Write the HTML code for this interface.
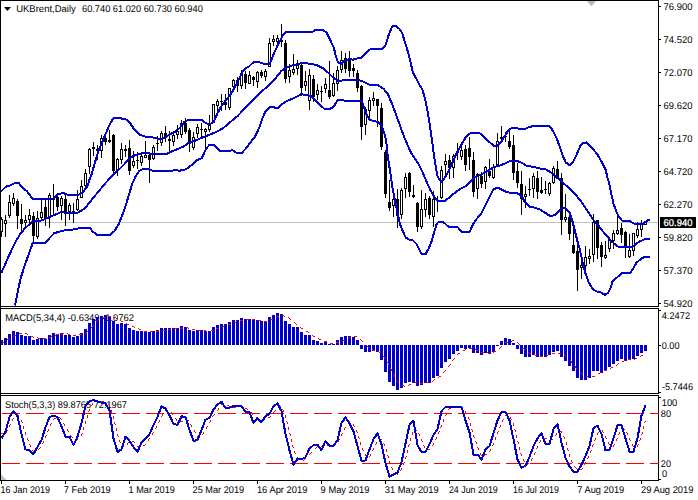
<!DOCTYPE html>
<html><head><meta charset="utf-8"><title>UKBrent Daily</title>
<style>html,body{margin:0;padding:0;background:#fff;overflow:hidden}svg{display:block}text{font-family:"Liberation Sans",sans-serif;font-size:9.8px;fill:#000;text-rendering:geometricPrecision}</style></head><body>
<svg width="698" height="500" viewBox="0 0 698 500">
<rect x="0" y="0" width="698" height="500" fill="#fff"/>
<text x="16.2" y="12" textLength="59.6" lengthAdjust="spacingAndGlyphs">UKBrent,Daily</text>
<text x="82" y="12" textLength="120.8" lengthAdjust="spacingAndGlyphs">60.740 61.020 60.730 60.940</text>
<text x="5.2" y="321" textLength="128.8" lengthAdjust="spacingAndGlyphs">MACD(5,34,4) -0.6349 -1.0762</text>
<text x="5.0" y="408" textLength="122" lengthAdjust="spacingAndGlyphs">Stoch(5,3,3) 89.8765 72.1967</text>
<g shape-rendering="crispEdges">
<rect x="1" y="222" width="657" height="1" fill="#c0c0c0"/>
<g id="candles">
<rect x="1" y="217" width="1" height="20" fill="#000"/>
<rect x="0" y="219" width="3" height="13" fill="#000"/>
<rect x="1" y="220" width="1" height="11" fill="#fff"/>
<rect x="5" y="215" width="1" height="22" fill="#000"/>
<rect x="4" y="220" width="3" height="4" fill="#000"/>
<rect x="5" y="221" width="1" height="2" fill="#fff"/>
<rect x="9" y="195" width="1" height="23" fill="#000"/>
<rect x="8" y="202" width="3" height="14" fill="#000"/>
<rect x="9" y="203" width="1" height="12" fill="#fff"/>
<rect x="13" y="193" width="1" height="13" fill="#000"/>
<rect x="12" y="198" width="3" height="6" fill="#000"/>
<rect x="13" y="199" width="1" height="4" fill="#fff"/>
<rect x="17" y="199" width="1" height="30" fill="#000"/>
<rect x="16" y="201" width="3" height="15" fill="#000"/>
<rect x="21" y="204" width="1" height="27" fill="#000"/>
<rect x="20" y="219" width="3" height="5" fill="#000"/>
<rect x="25" y="215" width="1" height="12" fill="#000"/>
<rect x="24" y="220" width="3" height="3" fill="#000"/>
<rect x="25" y="221" width="1" height="1" fill="#fff"/>
<rect x="29" y="209" width="1" height="14" fill="#000"/>
<rect x="28" y="215" width="3" height="5" fill="#000"/>
<rect x="29" y="216" width="1" height="3" fill="#fff"/>
<rect x="33" y="212" width="1" height="30" fill="#000"/>
<rect x="32" y="216" width="3" height="20" fill="#000"/>
<rect x="37" y="211" width="1" height="28" fill="#000"/>
<rect x="36" y="218" width="3" height="19" fill="#000"/>
<rect x="37" y="219" width="1" height="17" fill="#fff"/>
<rect x="41" y="200" width="1" height="20" fill="#000"/>
<rect x="40" y="212" width="3" height="6" fill="#000"/>
<rect x="41" y="213" width="1" height="4" fill="#fff"/>
<rect x="45" y="200" width="1" height="26" fill="#000"/>
<rect x="44" y="207" width="3" height="12" fill="#000"/>
<rect x="49" y="193" width="1" height="35" fill="#000"/>
<rect x="48" y="195" width="3" height="23" fill="#000"/>
<rect x="49" y="196" width="1" height="21" fill="#fff"/>
<rect x="53" y="184" width="1" height="32" fill="#000"/>
<rect x="52" y="199" width="3" height="1" fill="#000"/>
<rect x="57" y="193" width="1" height="18" fill="#000"/>
<rect x="56" y="197" width="3" height="10" fill="#000"/>
<rect x="61" y="196" width="1" height="24" fill="#000"/>
<rect x="60" y="198" width="3" height="8" fill="#000"/>
<rect x="61" y="199" width="1" height="6" fill="#fff"/>
<rect x="65" y="195" width="1" height="31" fill="#000"/>
<rect x="64" y="199" width="3" height="13" fill="#000"/>
<rect x="69" y="203" width="1" height="17" fill="#000"/>
<rect x="68" y="205" width="3" height="7" fill="#000"/>
<rect x="69" y="206" width="1" height="5" fill="#fff"/>
<rect x="73" y="203" width="1" height="20" fill="#000"/>
<rect x="72" y="211" width="3" height="2" fill="#000"/>
<rect x="77" y="190" width="1" height="21" fill="#000"/>
<rect x="76" y="199" width="3" height="11" fill="#000"/>
<rect x="77" y="200" width="1" height="9" fill="#fff"/>
<rect x="81" y="180" width="1" height="18" fill="#000"/>
<rect x="80" y="186" width="3" height="12" fill="#000"/>
<rect x="81" y="187" width="1" height="10" fill="#fff"/>
<rect x="85" y="169" width="1" height="18" fill="#000"/>
<rect x="84" y="173" width="3" height="13" fill="#000"/>
<rect x="85" y="174" width="1" height="11" fill="#fff"/>
<rect x="89" y="148" width="1" height="26" fill="#000"/>
<rect x="88" y="149" width="3" height="18" fill="#000"/>
<rect x="89" y="150" width="1" height="16" fill="#fff"/>
<rect x="93" y="142" width="1" height="14" fill="#000"/>
<rect x="92" y="147" width="3" height="2" fill="#000"/>
<rect x="97" y="145" width="1" height="15" fill="#000"/>
<rect x="96" y="149" width="3" height="2" fill="#000"/>
<rect x="101" y="135" width="1" height="23" fill="#000"/>
<rect x="100" y="138" width="3" height="13" fill="#000"/>
<rect x="101" y="139" width="1" height="11" fill="#fff"/>
<rect x="105" y="136" width="1" height="9" fill="#000"/>
<rect x="104" y="138" width="3" height="4" fill="#000"/>
<rect x="109" y="130" width="1" height="13" fill="#000"/>
<rect x="108" y="140" width="3" height="2" fill="#000"/>
<rect x="113" y="134" width="1" height="40" fill="#000"/>
<rect x="112" y="135" width="3" height="36" fill="#000"/>
<rect x="117" y="158" width="1" height="18" fill="#000"/>
<rect x="116" y="159" width="3" height="11" fill="#000"/>
<rect x="117" y="160" width="1" height="9" fill="#fff"/>
<rect x="121" y="143" width="1" height="21" fill="#000"/>
<rect x="120" y="149" width="3" height="11" fill="#000"/>
<rect x="121" y="150" width="1" height="9" fill="#fff"/>
<rect x="125" y="145" width="1" height="12" fill="#000"/>
<rect x="124" y="149" width="3" height="2" fill="#000"/>
<rect x="129" y="140" width="1" height="35" fill="#000"/>
<rect x="128" y="148" width="3" height="23" fill="#000"/>
<rect x="133" y="151" width="1" height="17" fill="#000"/>
<rect x="132" y="161" width="3" height="5" fill="#000"/>
<rect x="133" y="162" width="1" height="3" fill="#fff"/>
<rect x="137" y="152" width="1" height="17" fill="#000"/>
<rect x="136" y="160" width="3" height="1" fill="#000"/>
<rect x="141" y="154" width="1" height="12" fill="#000"/>
<rect x="140" y="156" width="3" height="7" fill="#000"/>
<rect x="141" y="157" width="1" height="5" fill="#fff"/>
<rect x="145" y="141" width="1" height="17" fill="#000"/>
<rect x="144" y="155" width="3" height="3" fill="#000"/>
<rect x="145" y="156" width="1" height="1" fill="#fff"/>
<rect x="149" y="154" width="1" height="29" fill="#000"/>
<rect x="148" y="155" width="3" height="5" fill="#000"/>
<rect x="153" y="145" width="1" height="15" fill="#000"/>
<rect x="152" y="147" width="3" height="12" fill="#000"/>
<rect x="153" y="148" width="1" height="10" fill="#fff"/>
<rect x="157" y="136" width="1" height="15" fill="#000"/>
<rect x="156" y="143" width="3" height="1" fill="#000"/>
<rect x="161" y="131" width="1" height="15" fill="#000"/>
<rect x="160" y="133" width="3" height="10" fill="#000"/>
<rect x="161" y="134" width="1" height="8" fill="#fff"/>
<rect x="165" y="126" width="1" height="16" fill="#000"/>
<rect x="164" y="133" width="3" height="4" fill="#000"/>
<rect x="169" y="131" width="1" height="21" fill="#000"/>
<rect x="168" y="139" width="3" height="2" fill="#000"/>
<rect x="173" y="134" width="1" height="12" fill="#000"/>
<rect x="172" y="135" width="3" height="7" fill="#000"/>
<rect x="173" y="136" width="1" height="5" fill="#fff"/>
<rect x="177" y="125" width="1" height="14" fill="#000"/>
<rect x="176" y="131" width="3" height="4" fill="#000"/>
<rect x="177" y="132" width="1" height="2" fill="#fff"/>
<rect x="181" y="120" width="1" height="18" fill="#000"/>
<rect x="180" y="123" width="3" height="12" fill="#000"/>
<rect x="181" y="124" width="1" height="10" fill="#fff"/>
<rect x="185" y="118" width="1" height="16" fill="#000"/>
<rect x="184" y="123" width="3" height="9" fill="#000"/>
<rect x="189" y="128" width="1" height="24" fill="#000"/>
<rect x="188" y="130" width="3" height="12" fill="#000"/>
<rect x="193" y="132" width="1" height="18" fill="#000"/>
<rect x="192" y="137" width="3" height="11" fill="#000"/>
<rect x="193" y="138" width="1" height="9" fill="#fff"/>
<rect x="197" y="124" width="1" height="14" fill="#000"/>
<rect x="196" y="127" width="3" height="7" fill="#000"/>
<rect x="197" y="128" width="1" height="5" fill="#fff"/>
<rect x="201" y="123" width="1" height="15" fill="#000"/>
<rect x="200" y="129" width="3" height="1" fill="#000"/>
<rect x="205" y="128" width="1" height="20" fill="#000"/>
<rect x="204" y="129" width="3" height="3" fill="#000"/>
<rect x="205" y="130" width="1" height="1" fill="#fff"/>
<rect x="209" y="115" width="1" height="17" fill="#000"/>
<rect x="208" y="125" width="3" height="5" fill="#000"/>
<rect x="209" y="126" width="1" height="3" fill="#fff"/>
<rect x="213" y="104" width="1" height="19" fill="#000"/>
<rect x="212" y="104" width="3" height="19" fill="#000"/>
<rect x="213" y="105" width="1" height="17" fill="#fff"/>
<rect x="217" y="99" width="1" height="13" fill="#000"/>
<rect x="216" y="101" width="3" height="5" fill="#000"/>
<rect x="217" y="102" width="1" height="3" fill="#fff"/>
<rect x="221" y="94" width="1" height="17" fill="#000"/>
<rect x="220" y="101" width="3" height="1" fill="#000"/>
<rect x="225" y="94" width="1" height="16" fill="#000"/>
<rect x="224" y="102" width="3" height="3" fill="#000"/>
<rect x="229" y="88" width="1" height="22" fill="#000"/>
<rect x="228" y="88" width="3" height="20" fill="#000"/>
<rect x="229" y="89" width="1" height="18" fill="#fff"/>
<rect x="233" y="79" width="1" height="9" fill="#000"/>
<rect x="232" y="80" width="3" height="7" fill="#000"/>
<rect x="233" y="81" width="1" height="5" fill="#fff"/>
<rect x="237" y="77" width="1" height="15" fill="#000"/>
<rect x="236" y="80" width="3" height="6" fill="#000"/>
<rect x="241" y="70" width="1" height="19" fill="#000"/>
<rect x="240" y="73" width="3" height="13" fill="#000"/>
<rect x="241" y="74" width="1" height="11" fill="#fff"/>
<rect x="245" y="71" width="1" height="18" fill="#000"/>
<rect x="244" y="74" width="3" height="9" fill="#000"/>
<rect x="249" y="71" width="1" height="13" fill="#000"/>
<rect x="248" y="75" width="3" height="9" fill="#000"/>
<rect x="249" y="76" width="1" height="7" fill="#fff"/>
<rect x="253" y="76" width="1" height="10" fill="#000"/>
<rect x="252" y="77" width="3" height="3" fill="#000"/>
<rect x="257" y="71" width="1" height="17" fill="#000"/>
<rect x="256" y="72" width="3" height="10" fill="#000"/>
<rect x="257" y="73" width="1" height="8" fill="#fff"/>
<rect x="261" y="70" width="1" height="8" fill="#000"/>
<rect x="260" y="72" width="3" height="4" fill="#000"/>
<rect x="265" y="69" width="1" height="12" fill="#000"/>
<rect x="264" y="71" width="3" height="6" fill="#000"/>
<rect x="265" y="72" width="1" height="4" fill="#fff"/>
<rect x="269" y="38" width="1" height="29" fill="#000"/>
<rect x="268" y="43" width="3" height="24" fill="#000"/>
<rect x="269" y="44" width="1" height="22" fill="#fff"/>
<rect x="273" y="35" width="1" height="11" fill="#000"/>
<rect x="272" y="39" width="3" height="3" fill="#000"/>
<rect x="273" y="40" width="1" height="1" fill="#fff"/>
<rect x="277" y="35" width="1" height="9" fill="#000"/>
<rect x="276" y="38" width="3" height="4" fill="#000"/>
<rect x="277" y="39" width="1" height="2" fill="#fff"/>
<rect x="281" y="24" width="1" height="23" fill="#000"/>
<rect x="280" y="40" width="3" height="2" fill="#000"/>
<rect x="285" y="40" width="1" height="43" fill="#000"/>
<rect x="284" y="43" width="3" height="36" fill="#000"/>
<rect x="289" y="64" width="1" height="19" fill="#000"/>
<rect x="288" y="70" width="3" height="7" fill="#000"/>
<rect x="289" y="71" width="1" height="5" fill="#fff"/>
<rect x="293" y="54" width="1" height="21" fill="#000"/>
<rect x="292" y="69" width="3" height="4" fill="#000"/>
<rect x="293" y="70" width="1" height="2" fill="#fff"/>
<rect x="297" y="60" width="1" height="15" fill="#000"/>
<rect x="296" y="65" width="3" height="4" fill="#000"/>
<rect x="297" y="66" width="1" height="2" fill="#fff"/>
<rect x="301" y="62" width="1" height="34" fill="#000"/>
<rect x="300" y="65" width="3" height="23" fill="#000"/>
<rect x="305" y="71" width="1" height="20" fill="#000"/>
<rect x="304" y="81" width="3" height="5" fill="#000"/>
<rect x="305" y="82" width="1" height="3" fill="#fff"/>
<rect x="309" y="69" width="1" height="41" fill="#000"/>
<rect x="308" y="75" width="3" height="26" fill="#000"/>
<rect x="309" y="76" width="1" height="24" fill="#fff"/>
<rect x="313" y="75" width="1" height="27" fill="#000"/>
<rect x="312" y="79" width="3" height="18" fill="#000"/>
<rect x="317" y="84" width="1" height="16" fill="#000"/>
<rect x="316" y="90" width="3" height="5" fill="#000"/>
<rect x="317" y="91" width="1" height="3" fill="#fff"/>
<rect x="321" y="86" width="1" height="16" fill="#000"/>
<rect x="320" y="91" width="3" height="1" fill="#000"/>
<rect x="325" y="78" width="1" height="15" fill="#000"/>
<rect x="324" y="84" width="3" height="5" fill="#000"/>
<rect x="325" y="85" width="1" height="3" fill="#fff"/>
<rect x="329" y="61" width="1" height="38" fill="#000"/>
<rect x="328" y="90" width="3" height="7" fill="#000"/>
<rect x="333" y="73" width="1" height="24" fill="#000"/>
<rect x="332" y="83" width="3" height="13" fill="#000"/>
<rect x="333" y="84" width="1" height="11" fill="#fff"/>
<rect x="337" y="66" width="1" height="25" fill="#000"/>
<rect x="336" y="70" width="3" height="14" fill="#000"/>
<rect x="337" y="71" width="1" height="12" fill="#fff"/>
<rect x="341" y="51" width="1" height="22" fill="#000"/>
<rect x="340" y="60" width="3" height="10" fill="#000"/>
<rect x="341" y="61" width="1" height="8" fill="#fff"/>
<rect x="345" y="53" width="1" height="20" fill="#000"/>
<rect x="344" y="58" width="3" height="11" fill="#000"/>
<rect x="349" y="51" width="1" height="26" fill="#000"/>
<rect x="348" y="58" width="3" height="13" fill="#000"/>
<rect x="353" y="64" width="1" height="13" fill="#000"/>
<rect x="352" y="68" width="3" height="3" fill="#000"/>
<rect x="357" y="70" width="1" height="22" fill="#000"/>
<rect x="356" y="73" width="3" height="15" fill="#000"/>
<rect x="361" y="85" width="1" height="55" fill="#000"/>
<rect x="360" y="86" width="3" height="41" fill="#000"/>
<rect x="365" y="107" width="1" height="28" fill="#000"/>
<rect x="364" y="109" width="3" height="16" fill="#000"/>
<rect x="365" y="110" width="1" height="14" fill="#fff"/>
<rect x="369" y="97" width="1" height="21" fill="#000"/>
<rect x="368" y="100" width="3" height="11" fill="#000"/>
<rect x="369" y="101" width="1" height="9" fill="#fff"/>
<rect x="373" y="92" width="1" height="14" fill="#000"/>
<rect x="372" y="98" width="3" height="3" fill="#000"/>
<rect x="373" y="99" width="1" height="1" fill="#fff"/>
<rect x="377" y="99" width="1" height="28" fill="#000"/>
<rect x="376" y="99" width="3" height="7" fill="#000"/>
<rect x="381" y="103" width="1" height="47" fill="#000"/>
<rect x="380" y="108" width="3" height="39" fill="#000"/>
<rect x="385" y="150" width="1" height="48" fill="#000"/>
<rect x="384" y="152" width="3" height="42" fill="#000"/>
<rect x="389" y="180" width="1" height="31" fill="#000"/>
<rect x="388" y="202" width="3" height="6" fill="#000"/>
<rect x="393" y="197" width="1" height="20" fill="#000"/>
<rect x="392" y="199" width="3" height="7" fill="#000"/>
<rect x="393" y="200" width="1" height="5" fill="#fff"/>
<rect x="397" y="189" width="1" height="39" fill="#000"/>
<rect x="396" y="199" width="3" height="17" fill="#000"/>
<rect x="401" y="188" width="1" height="31" fill="#000"/>
<rect x="400" y="190" width="3" height="25" fill="#000"/>
<rect x="401" y="191" width="1" height="23" fill="#fff"/>
<rect x="405" y="173" width="1" height="25" fill="#000"/>
<rect x="404" y="177" width="3" height="12" fill="#000"/>
<rect x="405" y="178" width="1" height="10" fill="#fff"/>
<rect x="409" y="172" width="1" height="25" fill="#000"/>
<rect x="408" y="173" width="3" height="19" fill="#000"/>
<rect x="413" y="185" width="1" height="13" fill="#000"/>
<rect x="412" y="195" width="3" height="2" fill="#000"/>
<rect x="417" y="202" width="1" height="30" fill="#000"/>
<rect x="416" y="203" width="3" height="24" fill="#000"/>
<rect x="421" y="190" width="1" height="39" fill="#000"/>
<rect x="420" y="209" width="3" height="18" fill="#000"/>
<rect x="421" y="210" width="1" height="16" fill="#fff"/>
<rect x="425" y="193" width="1" height="24" fill="#000"/>
<rect x="424" y="199" width="3" height="11" fill="#000"/>
<rect x="425" y="200" width="1" height="9" fill="#fff"/>
<rect x="429" y="196" width="1" height="23" fill="#000"/>
<rect x="428" y="198" width="3" height="17" fill="#000"/>
<rect x="433" y="191" width="1" height="36" fill="#000"/>
<rect x="432" y="199" width="3" height="18" fill="#000"/>
<rect x="433" y="200" width="1" height="16" fill="#fff"/>
<rect x="437" y="196" width="1" height="16" fill="#000"/>
<rect x="436" y="200" width="3" height="1" fill="#000"/>
<rect x="441" y="166" width="1" height="33" fill="#000"/>
<rect x="440" y="170" width="3" height="28" fill="#000"/>
<rect x="441" y="171" width="1" height="26" fill="#fff"/>
<rect x="445" y="154" width="1" height="22" fill="#000"/>
<rect x="444" y="161" width="3" height="4" fill="#000"/>
<rect x="445" y="162" width="1" height="2" fill="#fff"/>
<rect x="449" y="155" width="1" height="24" fill="#000"/>
<rect x="448" y="160" width="3" height="8" fill="#000"/>
<rect x="453" y="154" width="1" height="24" fill="#000"/>
<rect x="452" y="156" width="3" height="12" fill="#000"/>
<rect x="453" y="157" width="1" height="10" fill="#fff"/>
<rect x="457" y="143" width="1" height="17" fill="#000"/>
<rect x="456" y="152" width="3" height="1" fill="#000"/>
<rect x="461" y="145" width="1" height="15" fill="#000"/>
<rect x="460" y="150" width="3" height="7" fill="#000"/>
<rect x="461" y="151" width="1" height="5" fill="#fff"/>
<rect x="465" y="145" width="1" height="26" fill="#000"/>
<rect x="464" y="149" width="3" height="16" fill="#000"/>
<rect x="469" y="137" width="1" height="33" fill="#000"/>
<rect x="468" y="148" width="3" height="9" fill="#000"/>
<rect x="473" y="152" width="1" height="45" fill="#000"/>
<rect x="472" y="160" width="3" height="32" fill="#000"/>
<rect x="477" y="173" width="1" height="26" fill="#000"/>
<rect x="476" y="174" width="3" height="15" fill="#000"/>
<rect x="477" y="175" width="1" height="13" fill="#fff"/>
<rect x="481" y="172" width="1" height="16" fill="#000"/>
<rect x="480" y="176" width="3" height="8" fill="#000"/>
<rect x="485" y="166" width="1" height="23" fill="#000"/>
<rect x="484" y="167" width="3" height="15" fill="#000"/>
<rect x="485" y="168" width="1" height="13" fill="#fff"/>
<rect x="489" y="159" width="1" height="19" fill="#000"/>
<rect x="488" y="171" width="3" height="5" fill="#000"/>
<rect x="493" y="164" width="1" height="15" fill="#000"/>
<rect x="492" y="167" width="3" height="11" fill="#000"/>
<rect x="493" y="168" width="1" height="9" fill="#fff"/>
<rect x="497" y="133" width="1" height="33" fill="#000"/>
<rect x="496" y="141" width="3" height="24" fill="#000"/>
<rect x="497" y="142" width="1" height="22" fill="#fff"/>
<rect x="501" y="126" width="1" height="16" fill="#000"/>
<rect x="500" y="137" width="3" height="2" fill="#000"/>
<rect x="505" y="132" width="1" height="10" fill="#000"/>
<rect x="504" y="136" width="3" height="1" fill="#000"/>
<rect x="509" y="130" width="1" height="19" fill="#000"/>
<rect x="508" y="141" width="3" height="6" fill="#000"/>
<rect x="513" y="135" width="1" height="45" fill="#000"/>
<rect x="512" y="145" width="3" height="28" fill="#000"/>
<rect x="517" y="163" width="1" height="25" fill="#000"/>
<rect x="516" y="171" width="3" height="12" fill="#000"/>
<rect x="521" y="171" width="1" height="44" fill="#000"/>
<rect x="520" y="184" width="3" height="15" fill="#000"/>
<rect x="525" y="186" width="1" height="22" fill="#000"/>
<rect x="524" y="194" width="3" height="3" fill="#000"/>
<rect x="525" y="195" width="1" height="1" fill="#fff"/>
<rect x="529" y="178" width="1" height="18" fill="#000"/>
<rect x="528" y="189" width="3" height="1" fill="#000"/>
<rect x="533" y="173" width="1" height="25" fill="#000"/>
<rect x="532" y="176" width="3" height="13" fill="#000"/>
<rect x="533" y="177" width="1" height="11" fill="#fff"/>
<rect x="537" y="171" width="1" height="28" fill="#000"/>
<rect x="536" y="178" width="3" height="14" fill="#000"/>
<rect x="541" y="177" width="1" height="17" fill="#000"/>
<rect x="540" y="190" width="3" height="3" fill="#000"/>
<rect x="545" y="181" width="1" height="13" fill="#000"/>
<rect x="544" y="189" width="3" height="1" fill="#000"/>
<rect x="549" y="182" width="1" height="14" fill="#000"/>
<rect x="548" y="183" width="3" height="11" fill="#000"/>
<rect x="549" y="184" width="1" height="9" fill="#fff"/>
<rect x="553" y="166" width="1" height="18" fill="#000"/>
<rect x="552" y="168" width="3" height="15" fill="#000"/>
<rect x="553" y="169" width="1" height="13" fill="#fff"/>
<rect x="557" y="161" width="1" height="18" fill="#000"/>
<rect x="556" y="169" width="3" height="9" fill="#000"/>
<rect x="561" y="173" width="1" height="62" fill="#000"/>
<rect x="560" y="178" width="3" height="42" fill="#000"/>
<rect x="565" y="194" width="1" height="28" fill="#000"/>
<rect x="564" y="217" width="3" height="3" fill="#000"/>
<rect x="565" y="218" width="1" height="1" fill="#fff"/>
<rect x="569" y="214" width="1" height="26" fill="#000"/>
<rect x="568" y="217" width="3" height="17" fill="#000"/>
<rect x="573" y="227" width="1" height="27" fill="#000"/>
<rect x="572" y="245" width="3" height="8" fill="#000"/>
<rect x="577" y="245" width="1" height="46" fill="#000"/>
<rect x="576" y="251" width="3" height="19" fill="#000"/>
<rect x="581" y="259" width="1" height="20" fill="#000"/>
<rect x="580" y="265" width="3" height="3" fill="#000"/>
<rect x="581" y="266" width="1" height="1" fill="#fff"/>
<rect x="585" y="246" width="1" height="24" fill="#000"/>
<rect x="584" y="257" width="3" height="9" fill="#000"/>
<rect x="585" y="258" width="1" height="7" fill="#fff"/>
<rect x="589" y="249" width="1" height="15" fill="#000"/>
<rect x="588" y="256" width="3" height="3" fill="#000"/>
<rect x="589" y="257" width="1" height="1" fill="#fff"/>
<rect x="593" y="214" width="1" height="48" fill="#000"/>
<rect x="592" y="222" width="3" height="33" fill="#000"/>
<rect x="593" y="223" width="1" height="31" fill="#fff"/>
<rect x="597" y="220" width="1" height="39" fill="#000"/>
<rect x="596" y="220" width="3" height="28" fill="#000"/>
<rect x="601" y="242" width="1" height="25" fill="#000"/>
<rect x="600" y="245" width="3" height="12" fill="#000"/>
<rect x="605" y="241" width="1" height="18" fill="#000"/>
<rect x="604" y="255" width="3" height="3" fill="#000"/>
<rect x="605" y="256" width="1" height="1" fill="#fff"/>
<rect x="609" y="237" width="1" height="15" fill="#000"/>
<rect x="608" y="240" width="3" height="9" fill="#000"/>
<rect x="609" y="241" width="1" height="7" fill="#fff"/>
<rect x="613" y="230" width="1" height="19" fill="#000"/>
<rect x="612" y="233" width="3" height="8" fill="#000"/>
<rect x="613" y="234" width="1" height="6" fill="#fff"/>
<rect x="617" y="216" width="1" height="19" fill="#000"/>
<rect x="616" y="230" width="3" height="4" fill="#000"/>
<rect x="617" y="231" width="1" height="2" fill="#fff"/>
<rect x="621" y="223" width="1" height="20" fill="#000"/>
<rect x="620" y="228" width="3" height="7" fill="#000"/>
<rect x="625" y="231" width="1" height="27" fill="#000"/>
<rect x="624" y="232" width="3" height="15" fill="#000"/>
<rect x="629" y="234" width="1" height="24" fill="#000"/>
<rect x="628" y="250" width="3" height="7" fill="#000"/>
<rect x="629" y="251" width="1" height="5" fill="#fff"/>
<rect x="633" y="233" width="1" height="23" fill="#000"/>
<rect x="632" y="233" width="3" height="18" fill="#000"/>
<rect x="633" y="234" width="1" height="16" fill="#fff"/>
<rect x="637" y="222" width="1" height="16" fill="#000"/>
<rect x="636" y="229" width="3" height="7" fill="#000"/>
<rect x="637" y="230" width="1" height="5" fill="#fff"/>
<rect x="641" y="220" width="1" height="17" fill="#000"/>
<rect x="640" y="224" width="3" height="6" fill="#000"/>
<rect x="641" y="225" width="1" height="4" fill="#fff"/>
<rect x="645" y="221" width="1" height="4" fill="#000"/>
<rect x="644" y="222" width="3" height="3" fill="#000"/>
<rect x="645" y="223" width="1" height="1" fill="#fff"/>
</g>
<clipPath id="cm"><rect x="1" y="1" width="657" height="305"/></clipPath>
<g clip-path="url(#cm)" fill="none" stroke="#0000cc" stroke-width="2" stroke-linejoin="round">
<polyline points="0.0,192.4 5.8,186.7 10.8,185.2 15.9,182.6 18.7,183.0 23.0,188.1 27.4,191.7 32.4,198.6 37.5,198.9 52.6,198.9 57.6,194.6 63.4,192.9 68.4,195.3 77.8,195.3 82.9,192.4 86.5,187.4 88.3,183.7 89.8,178.6 91.9,173.6 94.8,162.8 98.4,151.2 102.0,142.6 105.6,133.9 109.9,123.9 113.5,118.0 121.0,118.0 122.2,119.0 125.5,119.0 130.1,123.1 134.4,129.6 139.5,134.7 146.0,136.8 153.2,137.5 158.9,139.0 164.7,138.3 169.0,134.7 176.2,131.1 180.0,127.6 184.3,121.9 188.6,119.7 201.6,119.7 205.9,123.3 210.3,124.0 213.9,121.2 217.5,113.2 221.8,105.3 228.3,97.3 232.3,91.7 235.5,86.1 237.9,81.3 240.3,76.5 242.7,71.6 245.1,68.4 248.7,66.8 251.5,64.0 254.0,61.9 258.0,61.9 261.0,62.8 264.0,63.9 269.8,63.9 274.1,53.1 278.4,43.7 282.7,35.8 285.6,32.2 288.0,31.6 313.0,31.6 315.0,30.3 318.0,30.0 323.0,30.0 326.7,32.9 330.3,40.1 333.9,48.1 336.0,56.7 338.2,62.5 341.1,63.9 344.7,60.3 349.0,59.3 353.3,59.6 359.1,57.8 361.8,57.5 366.1,52.5 370.4,49.1 381.9,49.1 385.5,45.3 387.7,38.1 389.9,31.6 392.7,25.8 395.6,25.8 399.2,28.7 402.1,33.0 405.0,42.4 407.9,51.7 410.8,63.3 412.9,72.6 416.5,79.1 419.4,84.9 422.3,89.4 425.2,99.5 427.3,109.6 429.5,122.6 430.9,132.6 432.4,142.7 433.1,148.6 434.5,158.7 436.0,168.1 437.4,176.0 439.6,180.3 441.7,181.8 443.9,178.9 446.8,174.6 449.7,168.8 452.5,162.5 456.6,153.2 461.0,145.3 465.3,138.1 469.6,133.7 473.9,132.6 481.1,133.7 485.5,138.1 489.8,142.4 494.1,146.0 497.7,145.7 501.3,141.7 504.9,135.9 508.5,130.1 511.4,128.3 517.2,128.3 520.0,129.1 524.4,129.1 528.7,127.2 534.5,125.8 549.4,125.8 553.0,130.9 556.6,138.1 560.2,148.1 563.1,156.8 565.9,162.6 569.5,165.1 573.1,161.8 576.7,154.6 580.3,146.0 583.2,143.1 586.1,142.4 589.7,146.0 594.0,150.3 597.6,154.6 602.0,162.6 605.6,169.8 607.7,178.4 609.2,183.6 611.3,193.7 613.5,203.8 616.4,211.7 619.3,217.5 622.1,220.6 629.1,220.8 632.8,222.9 634.6,223.9 641.1,223.9 643.0,223.8 647.5,220.6 648.2,219.8 650.0,219.8"/>
<polyline points="1.5,272.6 8.6,256.4 15.5,241.8 20.7,233.2 25.8,227.4 28.0,225.6 30.0,223.6 32.0,222.0 34.0,221.0 40.0,220.8 43.0,219.9 46.2,218.5 50.4,216.6 60.5,212.4 67.7,212.6 77.8,212.6 85.0,208.3 91.2,200.3 98.4,191.7 105.6,183.0 112.8,175.1 120.0,168.6 124.3,164.2 130.1,157.7 135.9,154.8 141.6,153.4 148.8,153.4 156.0,154.4 166.1,154.4 171.9,151.2 177.7,149.1 184.0,146.3 187.2,143.7 194.4,141.0 201.6,137.9 208.8,135.0 216.0,132.1 223.2,128.1 230.4,121.9 237.6,116.1 244.8,108.2 252.0,101.0 259.3,93.8 264.0,89.5 269.8,84.1 275.5,78.3 281.3,71.1 285.6,67.5 292.8,65.3 301.5,63.2 310.1,63.6 317.3,65.3 323.1,68.2 328.8,73.3 333.2,77.6 337.5,80.5 341.8,80.5 347.6,79.8 356.2,79.7 361.8,80.8 369.0,84.5 377.6,85.0 383.4,88.7 387.7,93.7 392.0,103.8 396.3,115.3 400.7,127.6 405.0,139.0 407.9,145.8 410.8,152.2 413.6,156.6 418.0,163.1 422.3,171.7 426.6,181.8 430.9,191.2 434.5,197.4 438.1,200.6 445.3,200.6 449.7,197.4 453.8,193.6 459.5,189.3 466.7,185.7 471.1,180.6 473.9,177.7 481.1,174.5 488.3,170.5 494.1,166.9 501.3,165.1 505.6,163.3 510.0,161.1 517.2,161.1 521.5,162.6 525.8,165.4 533.0,166.9 540.2,168.5 545.8,169.5 550.1,171.9 554.4,175.3 558.7,179.1 561.6,181.5 568.8,188.0 576.0,195.2 581.8,202.4 587.6,211.0 593.3,219.7 599.1,226.5 604.8,233.8 610.6,240.4 614.9,244.3 617.6,246.5 632.8,246.5 636.5,243.6 640.1,241.3 644.0,239.6 645.5,239.0 650.0,239.0"/>
<polyline points="15.1,305.5 17.5,293.0 20.7,277.9 25.8,262.4 32.7,243.0 44.8,243.0 54.2,233.2 62.8,230.6 69.2,230.0 75.7,229.2 80.0,228.0 89.8,228.0 92.6,231.3 97.0,234.9 109.9,234.9 114.3,231.3 118.6,224.1 122.2,215.4 125.8,205.3 128.7,195.3 132.3,183.7 135.9,175.8 139.5,170.8 142.4,169.3 149.6,169.3 152.4,170.8 163.3,170.7 167.6,171.4 171.9,170.7 175.5,170.0 179.1,170.7 184.3,170.0 188.6,167.5 193.0,163.9 197.3,160.0 201.6,158.4 203.8,153.8 205.9,148.8 209.5,144.9 213.9,144.9 217.5,148.8 220.3,150.9 229.0,150.9 232.6,150.2 236.2,152.7 242.0,152.7 246.3,148.1 250.6,142.3 254.9,136.8 259.3,127.6 262.1,119.0 265.0,112.5 267.9,108.9 270.1,106.9 272.6,107.0 275.5,107.8 278.4,107.8 282.7,103.7 287.0,100.9 292.8,98.7 297.1,96.5 300.7,94.4 305.8,94.7 311.6,96.5 315.9,100.9 320.2,105.2 324.5,108.8 330.3,108.8 333.9,106.6 337.5,100.1 343.3,99.8 344.5,100.9 361.8,100.9 363.9,107.4 366.8,115.3 369.7,119.7 373.3,121.1 377.6,121.8 381.2,125.4 384.1,132.6 386.3,141.3 387.0,150.1 388.4,160.2 390.6,174.6 392.7,189.0 394.9,200.5 397.1,210.6 399.9,223.8 402.1,229.6 405.7,237.5 409.3,239.7 412.9,240.4 416.5,244.0 419.4,249.8 421.6,253.8 425.9,253.8 428.8,248.3 431.6,241.1 434.5,231.0 436.7,223.8 438.9,221.7 442.5,221.7 445.3,223.8 448.2,226.6 457.4,226.8 461.7,231.8 469.6,231.8 472.5,225.3 476.1,219.6 481.1,213.8 485.5,205.1 489.8,196.5 493.4,189.3 497.0,187.9 499.9,188.6 505.6,191.5 510.0,192.9 518.6,193.6 522.2,197.2 525.1,202.3 529.4,206.6 535.9,208.0 540.0,209.6 545.8,213.2 550.1,216.1 554.4,215.3 558.0,211.7 561.6,208.4 565.9,208.4 569.5,212.5 572.4,221.1 575.3,232.6 577.5,241.3 579.5,248.0 582.3,260.9 585.2,272.5 588.8,282.5 593.1,289.5 597.5,291.9 601.1,292.6 603.2,294.1 605.4,294.8 608.3,292.6 610.4,288.3 612.6,281.1 616.9,277.5 622.0,273.2 629.9,273.2 633.5,268.1 636.3,262.9 639.5,260.2 642.7,257.8 644.3,257.0 650.0,257.0"/>
</g>
<g id="macd">
<rect x="1" y="340" width="2" height="5" fill="#0000cc"/>
<rect x="4" y="338" width="3" height="7" fill="#0000cc"/>
<rect x="8" y="334" width="3" height="11" fill="#0000cc"/>
<rect x="12" y="331" width="3" height="14" fill="#0000cc"/>
<rect x="16" y="332" width="3" height="13" fill="#0000cc"/>
<rect x="20" y="335" width="3" height="10" fill="#0000cc"/>
<rect x="24" y="336" width="3" height="9" fill="#0000cc"/>
<rect x="28" y="336" width="3" height="9" fill="#0000cc"/>
<rect x="32" y="340" width="3" height="5" fill="#0000cc"/>
<rect x="36" y="339" width="3" height="6" fill="#0000cc"/>
<rect x="40" y="338" width="3" height="7" fill="#0000cc"/>
<rect x="44" y="339" width="3" height="6" fill="#0000cc"/>
<rect x="48" y="335" width="3" height="10" fill="#0000cc"/>
<rect x="52" y="333" width="3" height="12" fill="#0000cc"/>
<rect x="56" y="334" width="3" height="11" fill="#0000cc"/>
<rect x="60" y="333" width="3" height="12" fill="#0000cc"/>
<rect x="64" y="335" width="3" height="10" fill="#0000cc"/>
<rect x="68" y="335" width="3" height="10" fill="#0000cc"/>
<rect x="72" y="337" width="3" height="8" fill="#0000cc"/>
<rect x="76" y="336" width="3" height="9" fill="#0000cc"/>
<rect x="80" y="333" width="3" height="12" fill="#0000cc"/>
<rect x="84" y="329" width="3" height="16" fill="#0000cc"/>
<rect x="88" y="323" width="3" height="22" fill="#0000cc"/>
<rect x="92" y="319" width="3" height="26" fill="#0000cc"/>
<rect x="96" y="317" width="3" height="28" fill="#0000cc"/>
<rect x="100" y="316" width="3" height="29" fill="#0000cc"/>
<rect x="104" y="315" width="3" height="30" fill="#0000cc"/>
<rect x="108" y="317" width="3" height="28" fill="#0000cc"/>
<rect x="112" y="321" width="3" height="24" fill="#0000cc"/>
<rect x="116" y="324" width="3" height="21" fill="#0000cc"/>
<rect x="120" y="323" width="3" height="22" fill="#0000cc"/>
<rect x="124" y="324" width="3" height="21" fill="#0000cc"/>
<rect x="128" y="328" width="3" height="17" fill="#0000cc"/>
<rect x="132" y="330" width="3" height="15" fill="#0000cc"/>
<rect x="136" y="331" width="3" height="14" fill="#0000cc"/>
<rect x="140" y="331" width="3" height="14" fill="#0000cc"/>
<rect x="144" y="331" width="3" height="14" fill="#0000cc"/>
<rect x="148" y="332" width="3" height="13" fill="#0000cc"/>
<rect x="152" y="331" width="3" height="14" fill="#0000cc"/>
<rect x="156" y="330" width="3" height="15" fill="#0000cc"/>
<rect x="160" y="328" width="3" height="17" fill="#0000cc"/>
<rect x="164" y="328" width="3" height="17" fill="#0000cc"/>
<rect x="168" y="328" width="3" height="17" fill="#0000cc"/>
<rect x="172" y="328" width="3" height="17" fill="#0000cc"/>
<rect x="176" y="328" width="3" height="17" fill="#0000cc"/>
<rect x="180" y="326" width="3" height="19" fill="#0000cc"/>
<rect x="184" y="327" width="3" height="18" fill="#0000cc"/>
<rect x="188" y="330" width="3" height="15" fill="#0000cc"/>
<rect x="192" y="331" width="3" height="14" fill="#0000cc"/>
<rect x="196" y="330" width="3" height="15" fill="#0000cc"/>
<rect x="200" y="330" width="3" height="15" fill="#0000cc"/>
<rect x="204" y="331" width="3" height="14" fill="#0000cc"/>
<rect x="208" y="331" width="3" height="14" fill="#0000cc"/>
<rect x="212" y="327" width="3" height="18" fill="#0000cc"/>
<rect x="216" y="325" width="3" height="20" fill="#0000cc"/>
<rect x="220" y="324" width="3" height="21" fill="#0000cc"/>
<rect x="224" y="324" width="3" height="21" fill="#0000cc"/>
<rect x="228" y="322" width="3" height="23" fill="#0000cc"/>
<rect x="232" y="320" width="3" height="25" fill="#0000cc"/>
<rect x="236" y="320" width="3" height="25" fill="#0000cc"/>
<rect x="240" y="318" width="3" height="27" fill="#0000cc"/>
<rect x="244" y="319" width="3" height="26" fill="#0000cc"/>
<rect x="248" y="319" width="3" height="26" fill="#0000cc"/>
<rect x="252" y="320" width="3" height="25" fill="#0000cc"/>
<rect x="256" y="320" width="3" height="25" fill="#0000cc"/>
<rect x="260" y="321" width="3" height="24" fill="#0000cc"/>
<rect x="264" y="321" width="3" height="24" fill="#0000cc"/>
<rect x="268" y="317" width="3" height="28" fill="#0000cc"/>
<rect x="272" y="315" width="3" height="30" fill="#0000cc"/>
<rect x="276" y="313" width="3" height="32" fill="#0000cc"/>
<rect x="280" y="314" width="3" height="31" fill="#0000cc"/>
<rect x="284" y="321" width="3" height="24" fill="#0000cc"/>
<rect x="288" y="324" width="3" height="21" fill="#0000cc"/>
<rect x="292" y="327" width="3" height="18" fill="#0000cc"/>
<rect x="296" y="327" width="3" height="18" fill="#0000cc"/>
<rect x="300" y="332" width="3" height="13" fill="#0000cc"/>
<rect x="304" y="335" width="3" height="10" fill="#0000cc"/>
<rect x="308" y="335" width="3" height="10" fill="#0000cc"/>
<rect x="312" y="340" width="3" height="5" fill="#0000cc"/>
<rect x="316" y="341" width="3" height="4" fill="#0000cc"/>
<rect x="320" y="343" width="3" height="2" fill="#0000cc"/>
<rect x="324" y="342" width="3" height="3" fill="#0000cc"/>
<rect x="328" y="344" width="3" height="1" fill="#0000cc"/>
<rect x="332" y="344" width="3" height="1" fill="#0000cc"/>
<rect x="336" y="340" width="3" height="5" fill="#0000cc"/>
<rect x="340" y="337" width="3" height="8" fill="#0000cc"/>
<rect x="344" y="336" width="3" height="9" fill="#0000cc"/>
<rect x="348" y="336" width="3" height="9" fill="#0000cc"/>
<rect x="352" y="337" width="3" height="8" fill="#0000cc"/>
<rect x="356" y="340" width="3" height="5" fill="#0000cc"/>
<rect x="360" y="345" width="3" height="4" fill="#0000cc"/>
<rect x="364" y="345" width="3" height="7" fill="#0000cc"/>
<rect x="368" y="345" width="3" height="7" fill="#0000cc"/>
<rect x="372" y="345" width="3" height="6" fill="#0000cc"/>
<rect x="376" y="345" width="3" height="7" fill="#0000cc"/>
<rect x="380" y="345" width="3" height="15" fill="#0000cc"/>
<rect x="384" y="345" width="3" height="27" fill="#0000cc"/>
<rect x="388" y="345" width="3" height="37" fill="#0000cc"/>
<rect x="392" y="345" width="3" height="41" fill="#0000cc"/>
<rect x="396" y="345" width="3" height="45" fill="#0000cc"/>
<rect x="400" y="345" width="3" height="43" fill="#0000cc"/>
<rect x="404" y="345" width="3" height="38" fill="#0000cc"/>
<rect x="408" y="345" width="3" height="37" fill="#0000cc"/>
<rect x="412" y="345" width="3" height="38" fill="#0000cc"/>
<rect x="416" y="345" width="3" height="41" fill="#0000cc"/>
<rect x="420" y="345" width="3" height="40" fill="#0000cc"/>
<rect x="424" y="345" width="3" height="38" fill="#0000cc"/>
<rect x="428" y="345" width="3" height="38" fill="#0000cc"/>
<rect x="432" y="345" width="3" height="33" fill="#0000cc"/>
<rect x="436" y="345" width="3" height="31" fill="#0000cc"/>
<rect x="440" y="345" width="3" height="23" fill="#0000cc"/>
<rect x="444" y="345" width="3" height="17" fill="#0000cc"/>
<rect x="448" y="345" width="3" height="14" fill="#0000cc"/>
<rect x="452" y="345" width="3" height="9" fill="#0000cc"/>
<rect x="456" y="345" width="3" height="6" fill="#0000cc"/>
<rect x="460" y="345" width="3" height="3" fill="#0000cc"/>
<rect x="464" y="345" width="3" height="4" fill="#0000cc"/>
<rect x="468" y="345" width="3" height="3" fill="#0000cc"/>
<rect x="472" y="345" width="3" height="8" fill="#0000cc"/>
<rect x="476" y="345" width="3" height="8" fill="#0000cc"/>
<rect x="480" y="345" width="3" height="10" fill="#0000cc"/>
<rect x="484" y="345" width="3" height="8" fill="#0000cc"/>
<rect x="488" y="345" width="3" height="9" fill="#0000cc"/>
<rect x="492" y="345" width="3" height="7" fill="#0000cc"/>
<rect x="496" y="345" width="3" height="1" fill="#0000cc"/>
<rect x="500" y="341" width="3" height="4" fill="#0000cc"/>
<rect x="504" y="338" width="3" height="7" fill="#0000cc"/>
<rect x="508" y="339" width="3" height="6" fill="#0000cc"/>
<rect x="512" y="343" width="3" height="2" fill="#0000cc"/>
<rect x="516" y="345" width="3" height="4" fill="#0000cc"/>
<rect x="520" y="345" width="3" height="9" fill="#0000cc"/>
<rect x="524" y="345" width="3" height="12" fill="#0000cc"/>
<rect x="528" y="345" width="3" height="12" fill="#0000cc"/>
<rect x="532" y="345" width="3" height="10" fill="#0000cc"/>
<rect x="536" y="345" width="3" height="12" fill="#0000cc"/>
<rect x="540" y="345" width="3" height="12" fill="#0000cc"/>
<rect x="544" y="345" width="3" height="12" fill="#0000cc"/>
<rect x="548" y="345" width="3" height="10" fill="#0000cc"/>
<rect x="552" y="345" width="3" height="7" fill="#0000cc"/>
<rect x="556" y="345" width="3" height="6" fill="#0000cc"/>
<rect x="560" y="345" width="3" height="12" fill="#0000cc"/>
<rect x="564" y="345" width="3" height="16" fill="#0000cc"/>
<rect x="568" y="345" width="3" height="21" fill="#0000cc"/>
<rect x="572" y="345" width="3" height="26" fill="#0000cc"/>
<rect x="576" y="345" width="3" height="33" fill="#0000cc"/>
<rect x="580" y="345" width="3" height="35" fill="#0000cc"/>
<rect x="584" y="345" width="3" height="35" fill="#0000cc"/>
<rect x="588" y="345" width="3" height="33" fill="#0000cc"/>
<rect x="592" y="345" width="3" height="26" fill="#0000cc"/>
<rect x="596" y="345" width="3" height="26" fill="#0000cc"/>
<rect x="600" y="345" width="3" height="28" fill="#0000cc"/>
<rect x="604" y="345" width="3" height="25" fill="#0000cc"/>
<rect x="608" y="345" width="3" height="22" fill="#0000cc"/>
<rect x="612" y="345" width="3" height="19" fill="#0000cc"/>
<rect x="616" y="345" width="3" height="16" fill="#0000cc"/>
<rect x="620" y="345" width="3" height="14" fill="#0000cc"/>
<rect x="624" y="345" width="3" height="16" fill="#0000cc"/>
<rect x="628" y="345" width="3" height="15" fill="#0000cc"/>
<rect x="632" y="345" width="3" height="14" fill="#0000cc"/>
<rect x="636" y="345" width="3" height="11" fill="#0000cc"/>
<rect x="640" y="345" width="3" height="8" fill="#0000cc"/>
<rect x="644" y="345" width="3" height="6" fill="#0000cc"/>
<path d="M282 315h2v1h-2zM108 316h3v1h-3zM277 316h2v1h-2zM284 316h1v1h-1zM102 317h3v1h-3zM114 317h2v1h-2zM276 317h1v1h-1zM288 317h1v1h-1zM116 318h1v1h-1zM289 318h1v1h-1zM98 319h1v1h-1zM246 319h3v1h-3zM252 319h3v1h-3zM270 319h3v1h-3zM290 319h1v1h-1zM97 320h1v1h-1zM120 320h1v1h-1zM240 320h3v1h-3zM258 320h3v1h-3zM96 321h1v1h-1zM121 321h2v1h-2zM236 321h1v1h-1zM264 321h3v1h-3zM234 322h2v1h-2zM294 322h1v1h-1zM126 323h1v1h-1zM295 323h1v1h-1zM127 324h2v1h-2zM228 324h3v1h-3zM296 324h1v1h-1zM93 325h1v1h-1zM224 325h1v1h-1zM92 326h1v1h-1zM132 326h2v1h-2zM222 326h2v1h-2zM91 327h1v1h-1zM134 327h1v1h-1zM182 327h1v1h-1zM186 327h2v1h-2zM300 327h1v1h-1zM138 328h1v1h-1zM174 328h3v1h-3zM180 328h2v1h-2zM188 328h1v1h-1zM216 328h3v1h-3zM301 328h2v1h-2zM139 329h2v1h-2zM168 329h3v1h-3zM192 329h3v1h-3zM158 330h1v1h-1zM162 330h3v1h-3zM198 330h3v1h-3zM204 330h2v1h-2zM211 330h2v1h-2zM87 331h1v1h-1zM144 331h3v1h-3zM150 331h3v1h-3zM156 331h2v1h-2zM206 331h1v1h-1zM210 331h1v1h-1zM306 331h2v1h-2zM86 332h1v1h-1zM308 332h1v1h-1zM19 333h3v1h-3zM25 333h2v1h-2zM62 333h2v1h-2zM67 333h1v1h-1zM85 333h1v1h-1zM27 334h1v1h-1zM56 334h2v1h-2zM61 334h1v1h-1zM68 334h2v1h-2zM79 334h3v1h-3zM14 335h2v1h-2zM55 335h1v1h-1zM73 335h3v1h-3zM312 335h1v1h-1zM13 336h1v1h-1zM31 336h2v1h-2zM51 336h1v1h-1zM313 336h2v1h-2zM354 336h3v1h-3zM33 337h1v1h-1zM37 337h1v1h-1zM49 337h2v1h-2zM349 337h2v1h-2zM9 338h1v1h-1zM38 338h2v1h-2zM43 338h3v1h-3zM318 338h1v1h-1zM348 338h1v1h-1zM7 339h2v1h-2zM319 339h2v1h-2zM360 339h1v1h-1zM343 340h2v1h-2zM361 340h1v1h-1zM512 340h2v1h-2zM324 341h3v1h-3zM342 341h1v1h-1zM362 341h1v1h-1zM511 341h1v1h-1zM2 342h2v1h-2zM336 342h3v1h-3zM505 342h3v1h-3zM517 342h1v1h-1zM1 343h1v1h-1zM330 343h3v1h-3zM518 343h1v1h-1zM519 344h1v1h-1zM366 345h1v1h-1zM367 346h1v1h-1zM501 346h1v1h-1zM368 347h1v1h-1zM500 347h1v1h-1zM469 348h3v1h-3zM499 348h1v1h-1zM522 348h2v1h-2zM372 349h1v1h-1zM465 349h1v1h-1zM475 349h1v1h-1zM524 349h1v1h-1zM373 350h2v1h-2zM463 350h2v1h-2zM476 350h2v1h-2zM378 351h1v1h-1zM494 351h2v1h-2zM379 352h2v1h-2zM481 352h3v1h-3zM487 352h1v1h-1zM493 352h1v1h-1zM528 352h1v1h-1zM458 353h2v1h-2zM488 353h2v1h-2zM529 353h2v1h-2zM552 353h3v1h-3zM558 353h3v1h-3zM457 354h1v1h-1zM534 354h1v1h-1zM548 354h1v1h-1zM564 354h1v1h-1zM535 355h2v1h-2zM546 355h2v1h-2zM565 355h1v1h-1zM641 355h2v1h-2zM383 356h1v1h-1zM540 356h3v1h-3zM566 356h1v1h-1zM640 356h1v1h-1zM384 357h1v1h-1zM385 358h1v1h-1zM454 358h1v1h-1zM635 358h2v1h-2zM453 359h1v1h-1zM628 359h3v1h-3zM634 359h1v1h-1zM452 360h1v1h-1zM570 360h1v1h-1zM624 360h1v1h-1zM571 361h1v1h-1zM622 361h2v1h-2zM387 362h1v1h-1zM571 362h1v1h-1zM388 363h1v1h-1zM618 363h1v1h-1zM388 364h1v1h-1zM450 364h1v1h-1zM617 364h1v1h-1zM449 365h1v1h-1zM616 365h1v1h-1zM448 366h1v1h-1zM575 366h1v1h-1zM575 367h1v1h-1zM611 367h2v1h-2zM390 368h1v1h-1zM576 368h1v1h-1zM610 368h1v1h-1zM391 369h1v1h-1zM391 370h1v1h-1zM445 370h1v1h-1zM604 370h3v1h-3zM444 371h1v1h-1zM443 372h1v1h-1zM580 372h1v1h-1zM600 372h1v1h-1zM581 373h1v1h-1zM598 373h2v1h-2zM393 374h1v1h-1zM582 374h1v1h-1zM394 375h1v1h-1zM394 376h1v1h-1zM439 376h2v1h-2zM586 376h2v1h-2zM592 376h3v1h-3zM438 377h1v1h-1zM588 377h1v1h-1zM434 379h1v1h-1zM396 380h1v1h-1zM433 380h1v1h-1zM397 381h1v1h-1zM432 381h1v1h-1zM398 382h1v1h-1zM414 382h3v1h-3zM426 382h3v1h-3zM420 383h3v1h-3zM409 384h2v1h-2zM402 385h2v1h-2zM408 385h1v1h-1zM404 386h1v1h-1z" fill="#ff0000"/>
</g>
<g id="stoch">
<rect x="2" y="413" width="18" height="1" fill="#ff0000"/>
<rect x="26" y="413" width="18" height="1" fill="#ff0000"/>
<rect x="50" y="413" width="18" height="1" fill="#ff0000"/>
<rect x="74" y="413" width="18" height="1" fill="#ff0000"/>
<rect x="98" y="413" width="18" height="1" fill="#ff0000"/>
<rect x="122" y="413" width="18" height="1" fill="#ff0000"/>
<rect x="146" y="413" width="18" height="1" fill="#ff0000"/>
<rect x="170" y="413" width="18" height="1" fill="#ff0000"/>
<rect x="194" y="413" width="18" height="1" fill="#ff0000"/>
<rect x="218" y="413" width="18" height="1" fill="#ff0000"/>
<rect x="242" y="413" width="18" height="1" fill="#ff0000"/>
<rect x="266" y="413" width="18" height="1" fill="#ff0000"/>
<rect x="290" y="413" width="18" height="1" fill="#ff0000"/>
<rect x="314" y="413" width="18" height="1" fill="#ff0000"/>
<rect x="338" y="413" width="18" height="1" fill="#ff0000"/>
<rect x="362" y="413" width="18" height="1" fill="#ff0000"/>
<rect x="386" y="413" width="18" height="1" fill="#ff0000"/>
<rect x="410" y="413" width="18" height="1" fill="#ff0000"/>
<rect x="434" y="413" width="18" height="1" fill="#ff0000"/>
<rect x="458" y="413" width="18" height="1" fill="#ff0000"/>
<rect x="482" y="413" width="18" height="1" fill="#ff0000"/>
<rect x="506" y="413" width="18" height="1" fill="#ff0000"/>
<rect x="530" y="413" width="18" height="1" fill="#ff0000"/>
<rect x="554" y="413" width="18" height="1" fill="#ff0000"/>
<rect x="578" y="413" width="18" height="1" fill="#ff0000"/>
<rect x="602" y="413" width="18" height="1" fill="#ff0000"/>
<rect x="626" y="413" width="18" height="1" fill="#ff0000"/>
<rect x="650" y="413" width="8" height="1" fill="#ff0000"/>
<rect x="2" y="463" width="18" height="1" fill="#ff0000"/>
<rect x="26" y="463" width="18" height="1" fill="#ff0000"/>
<rect x="50" y="463" width="18" height="1" fill="#ff0000"/>
<rect x="74" y="463" width="18" height="1" fill="#ff0000"/>
<rect x="98" y="463" width="18" height="1" fill="#ff0000"/>
<rect x="122" y="463" width="18" height="1" fill="#ff0000"/>
<rect x="146" y="463" width="18" height="1" fill="#ff0000"/>
<rect x="170" y="463" width="18" height="1" fill="#ff0000"/>
<rect x="194" y="463" width="18" height="1" fill="#ff0000"/>
<rect x="218" y="463" width="18" height="1" fill="#ff0000"/>
<rect x="242" y="463" width="18" height="1" fill="#ff0000"/>
<rect x="266" y="463" width="18" height="1" fill="#ff0000"/>
<rect x="290" y="463" width="18" height="1" fill="#ff0000"/>
<rect x="314" y="463" width="18" height="1" fill="#ff0000"/>
<rect x="338" y="463" width="18" height="1" fill="#ff0000"/>
<rect x="362" y="463" width="18" height="1" fill="#ff0000"/>
<rect x="386" y="463" width="18" height="1" fill="#ff0000"/>
<rect x="410" y="463" width="18" height="1" fill="#ff0000"/>
<rect x="434" y="463" width="18" height="1" fill="#ff0000"/>
<rect x="458" y="463" width="18" height="1" fill="#ff0000"/>
<rect x="482" y="463" width="18" height="1" fill="#ff0000"/>
<rect x="506" y="463" width="18" height="1" fill="#ff0000"/>
<rect x="530" y="463" width="18" height="1" fill="#ff0000"/>
<rect x="554" y="463" width="18" height="1" fill="#ff0000"/>
<rect x="578" y="463" width="18" height="1" fill="#ff0000"/>
<rect x="602" y="463" width="18" height="1" fill="#ff0000"/>
<rect x="626" y="463" width="18" height="1" fill="#ff0000"/>
<rect x="650" y="463" width="8" height="1" fill="#ff0000"/>
<path d="M96 401h3v1h-3zM102 401h2v1h-2zM104 402h1v1h-1zM92 403h1v1h-1zM92 404h1v1h-1zM108 404h1v1h-1zM221 404h3v1h-3zM91 405h1v1h-1zM109 405h1v1h-1zM227 405h2v1h-2zM109 406h1v1h-1zM229 406h1v1h-1zM239 406h3v1h-3zM280 406h1v1h-1zM454 406h3v1h-3zM460 406h2v1h-2zM233 407h3v1h-3zM278 407h2v1h-2zM462 407h1v1h-1zM218 408h1v1h-1zM245 408h2v1h-2zM449 408h2v1h-2zM89 409h1v1h-1zM218 409h1v1h-1zM247 409h1v1h-1zM282 409h1v1h-1zM448 409h1v1h-1zM89 410h1v1h-1zM111 410h1v1h-1zM165 410h3v1h-3zM217 410h1v1h-1zM275 410h1v1h-1zM283 410h1v1h-1zM88 411h1v1h-1zM111 411h1v1h-1zM274 411h1v1h-1zM283 411h1v1h-1zM465 411h1v1h-1zM111 412h1v1h-1zM171 412h1v1h-1zM251 412h1v1h-1zM273 412h1v1h-1zM465 412h1v1h-1zM171 413h1v1h-1zM251 413h1v1h-1zM446 413h1v1h-1zM466 413h1v1h-1zM17 414h1v1h-1zM162 414h1v1h-1zM172 414h1v1h-1zM214 414h1v1h-1zM252 414h1v1h-1zM446 414h1v1h-1zM18 415h1v1h-1zM87 415h1v1h-1zM162 415h1v1h-1zM213 415h1v1h-1zM285 415h1v1h-1zM445 415h1v1h-1zM505 415h3v1h-3zM18 416h1v1h-1zM87 416h1v1h-1zM113 416h1v1h-1zM161 416h1v1h-1zM212 416h1v1h-1zM270 416h1v1h-1zM285 416h1v1h-1zM59 417h1v1h-1zM87 417h1v1h-1zM113 417h1v1h-1zM256 417h1v1h-1zM268 417h2v1h-2zM285 417h1v1h-1zM468 417h1v1h-1zM510 417h1v1h-1zM13 418h1v1h-1zM54 418h2v1h-2zM60 418h1v1h-1zM113 418h1v1h-1zM175 418h1v1h-1zM257 418h1v1h-1zM468 418h1v1h-1zM510 418h1v1h-1zM12 419h1v1h-1zM53 419h1v1h-1zM61 419h1v1h-1zM176 419h1v1h-1zM186 419h1v1h-1zM258 419h1v1h-1zM264 419h1v1h-1zM443 419h1v1h-1zM469 419h1v1h-1zM503 419h1v1h-1zM511 419h1v1h-1zM12 420h1v1h-1zM21 420h1v1h-1zM159 420h1v1h-1zM176 420h1v1h-1zM187 420h2v1h-2zM210 420h1v1h-1zM262 420h2v1h-2zM443 420h1v1h-1zM502 420h1v1h-1zM21 421h1v1h-1zM85 421h1v1h-1zM159 421h1v1h-1zM180 421h3v1h-3zM210 421h1v1h-1zM286 421h1v1h-1zM349 421h1v1h-1zM443 421h1v1h-1zM502 421h1v1h-1zM645 421h1v1h-1zM22 422h1v1h-1zM85 422h1v1h-1zM114 422h1v1h-1zM158 422h1v1h-1zM209 422h1v1h-1zM287 422h1v1h-1zM348 422h1v1h-1zM644 422h1v1h-1zM51 423h1v1h-1zM63 423h1v1h-1zM85 423h1v1h-1zM114 423h1v1h-1zM287 423h1v1h-1zM348 423h1v1h-1zM470 423h1v1h-1zM513 423h1v1h-1zM10 424h1v1h-1zM50 424h1v1h-1zM64 424h1v1h-1zM115 424h1v1h-1zM190 424h1v1h-1zM353 424h1v1h-1zM470 424h1v1h-1zM513 424h1v1h-1zM9 425h1v1h-1zM50 425h1v1h-1zM64 425h1v1h-1zM191 425h1v1h-1zM353 425h1v1h-1zM441 425h1v1h-1zM470 425h1v1h-1zM500 425h1v1h-1zM513 425h1v1h-1zM9 426h1v1h-1zM23 426h1v1h-1zM156 426h1v1h-1zM191 426h1v1h-1zM207 426h1v1h-1zM354 426h1v1h-1zM441 426h1v1h-1zM500 426h1v1h-1zM643 426h1v1h-1zM23 427h1v1h-1zM83 427h1v1h-1zM156 427h1v1h-1zM206 427h1v1h-1zM288 427h1v1h-1zM345 427h1v1h-1zM440 427h1v1h-1zM499 427h1v1h-1zM643 427h1v1h-1zM23 428h1v1h-1zM83 428h1v1h-1zM116 428h1v1h-1zM155 428h1v1h-1zM206 428h1v1h-1zM288 428h1v1h-1zM344 428h1v1h-1zM643 428h1v1h-1zM48 429h1v1h-1zM67 429h1v1h-1zM83 429h1v1h-1zM116 429h1v1h-1zM288 429h1v1h-1zM344 429h1v1h-1zM414 429h2v1h-2zM471 429h1v1h-1zM514 429h1v1h-1zM622 429h3v1h-3zM7 430h1v1h-1zM48 430h1v1h-1zM67 430h1v1h-1zM116 430h1v1h-1zM194 430h1v1h-1zM356 430h1v1h-1zM416 430h1v1h-1zM472 430h1v1h-1zM515 430h1v1h-1zM602 430h1v1h-1zM6 431h1v1h-1zM47 431h1v1h-1zM68 431h1v1h-1zM194 431h1v1h-1zM356 431h1v1h-1zM439 431h1v1h-1zM472 431h1v1h-1zM498 431h1v1h-1zM515 431h1v1h-1zM560 431h2v1h-2zM602 431h1v1h-1zM6 432h1v1h-1zM25 432h1v1h-1zM153 432h1v1h-1zM195 432h1v1h-1zM203 432h1v1h-1zM357 432h1v1h-1zM412 432h1v1h-1zM438 432h1v1h-1zM497 432h1v1h-1zM561 432h1v1h-1zM598 432h1v1h-1zM603 432h1v1h-1zM619 432h1v1h-1zM626 432h1v1h-1zM642 432h1v1h-1zM1 433h3v1h-3zM25 433h1v1h-1zM82 433h1v1h-1zM152 433h1v1h-1zM203 433h1v1h-1zM289 433h1v1h-1zM342 433h1v1h-1zM412 433h1v1h-1zM418 433h1v1h-1zM438 433h1v1h-1zM497 433h1v1h-1zM556 433h1v1h-1zM597 433h1v1h-1zM619 433h1v1h-1zM627 433h1v1h-1zM642 433h1v1h-1zM25 434h1v1h-1zM81 434h1v1h-1zM117 434h1v1h-1zM152 434h1v1h-1zM202 434h1v1h-1zM290 434h1v1h-1zM341 434h1v1h-1zM412 434h1v1h-1zM419 434h1v1h-1zM556 434h1v1h-1zM597 434h1v1h-1zM618 434h1v1h-1zM627 434h1v1h-1zM641 434h1v1h-1zM46 435h1v1h-1zM70 435h1v1h-1zM81 435h1v1h-1zM117 435h1v1h-1zM290 435h1v1h-1zM341 435h1v1h-1zM419 435h1v1h-1zM473 435h1v1h-1zM516 435h1v1h-1zM555 435h1v1h-1zM45 436h1v1h-1zM71 436h1v1h-1zM118 436h1v1h-1zM197 436h3v1h-3zM358 436h1v1h-1zM473 436h1v1h-1zM516 436h1v1h-1zM563 436h1v1h-1zM605 436h1v1h-1zM45 437h1v1h-1zM72 437h1v1h-1zM358 437h1v1h-1zM436 437h1v1h-1zM474 437h1v1h-1zM495 437h1v1h-1zM516 437h1v1h-1zM564 437h1v1h-1zM605 437h1v1h-1zM27 438h1v1h-1zM149 438h1v1h-1zM359 438h1v1h-1zM410 438h1v1h-1zM436 438h1v1h-1zM495 438h1v1h-1zM544 438h3v1h-3zM564 438h1v1h-1zM595 438h1v1h-1zM606 438h1v1h-1zM617 438h1v1h-1zM629 438h1v1h-1zM640 438h1v1h-1zM27 439h1v1h-1zM75 439h3v1h-3zM148 439h1v1h-1zM291 439h1v1h-1zM339 439h1v1h-1zM380 439h2v1h-2zM410 439h1v1h-1zM421 439h1v1h-1zM435 439h1v1h-1zM495 439h1v1h-1zM551 439h2v1h-2zM595 439h1v1h-1zM616 439h1v1h-1zM629 439h1v1h-1zM640 439h1v1h-1zM28 440h1v1h-1zM119 440h1v1h-1zM148 440h1v1h-1zM291 440h1v1h-1zM338 440h1v1h-1zM379 440h1v1h-1zM410 440h1v1h-1zM421 440h1v1h-1zM540 440h1v1h-1zM550 440h1v1h-1zM594 440h1v1h-1zM616 440h1v1h-1zM630 440h1v1h-1zM639 440h1v1h-1zM43 441h1v1h-1zM119 441h1v1h-1zM132 441h2v1h-2zM291 441h1v1h-1zM338 441h1v1h-1zM422 441h1v1h-1zM475 441h1v1h-1zM517 441h1v1h-1zM540 441h1v1h-1zM43 442h1v1h-1zM120 442h1v1h-1zM128 442h1v1h-1zM134 442h1v1h-1zM360 442h1v1h-1zM376 442h1v1h-1zM476 442h1v1h-1zM518 442h1v1h-1zM539 442h1v1h-1zM566 442h1v1h-1zM608 442h1v1h-1zM42 443h1v1h-1zM127 443h1v1h-1zM360 443h1v1h-1zM376 443h1v1h-1zM383 443h1v1h-1zM433 443h1v1h-1zM476 443h1v1h-1zM493 443h1v1h-1zM518 443h1v1h-1zM566 443h1v1h-1zM608 443h1v1h-1zM29 444h1v1h-1zM127 444h1v1h-1zM145 444h1v1h-1zM333 444h3v1h-3zM360 444h1v1h-1zM375 444h1v1h-1zM384 444h1v1h-1zM409 444h1v1h-1zM433 444h1v1h-1zM493 444h1v1h-1zM566 444h1v1h-1zM593 444h1v1h-1zM609 444h1v1h-1zM614 444h1v1h-1zM632 444h1v1h-1zM638 444h1v1h-1zM30 445h1v1h-1zM143 445h2v1h-2zM292 445h1v1h-1zM327 445h3v1h-3zM384 445h1v1h-1zM408 445h1v1h-1zM423 445h1v1h-1zM432 445h1v1h-1zM492 445h1v1h-1zM592 445h1v1h-1zM613 445h1v1h-1zM632 445h1v1h-1zM637 445h1v1h-1zM30 446h1v1h-1zM121 446h3v1h-3zM137 446h3v1h-3zM292 446h1v1h-1zM317 446h1v1h-1zM321 446h3v1h-3zM408 446h1v1h-1zM424 446h1v1h-1zM537 446h1v1h-1zM592 446h1v1h-1zM613 446h1v1h-1zM633 446h1v1h-1zM637 446h1v1h-1zM40 447h1v1h-1zM293 447h1v1h-1zM316 447h1v1h-1zM424 447h1v1h-1zM477 447h1v1h-1zM519 447h1v1h-1zM537 447h1v1h-1zM39 448h1v1h-1zM315 448h1v1h-1zM362 448h1v1h-1zM373 448h1v1h-1zM478 448h1v1h-1zM519 448h1v1h-1zM536 448h1v1h-1zM567 448h1v1h-1zM38 449h1v1h-1zM362 449h1v1h-1zM373 449h1v1h-1zM386 449h1v1h-1zM427 449h3v1h-3zM478 449h1v1h-1zM490 449h1v1h-1zM519 449h1v1h-1zM567 449h1v1h-1zM32 450h1v1h-1zM363 450h1v1h-1zM372 450h1v1h-1zM386 450h1v1h-1zM407 450h1v1h-1zM490 450h1v1h-1zM568 450h1v1h-1zM591 450h1v1h-1zM33 451h2v1h-2zM294 451h1v1h-1zM386 451h1v1h-1zM407 451h1v1h-1zM489 451h1v1h-1zM590 451h1v1h-1zM294 452h1v1h-1zM311 452h1v1h-1zM407 452h1v1h-1zM535 452h1v1h-1zM590 452h1v1h-1zM295 453h1v1h-1zM310 453h1v1h-1zM480 453h1v1h-1zM520 453h1v1h-1zM534 453h1v1h-1zM309 454h1v1h-1zM365 454h1v1h-1zM370 454h1v1h-1zM480 454h1v1h-1zM485 454h2v1h-2zM521 454h1v1h-1zM534 454h1v1h-1zM569 454h1v1h-1zM365 455h2v1h-2zM370 455h1v1h-1zM387 455h1v1h-1zM481 455h1v1h-1zM484 455h1v1h-1zM521 455h1v1h-1zM569 455h1v1h-1zM369 456h1v1h-1zM388 456h1v1h-1zM406 456h1v1h-1zM569 456h1v1h-1zM588 456h1v1h-1zM297 457h1v1h-1zM388 457h1v1h-1zM405 457h1v1h-1zM588 457h1v1h-1zM298 458h1v1h-1zM305 458h1v1h-1zM405 458h1v1h-1zM532 458h1v1h-1zM587 458h1v1h-1zM299 459h1v1h-1zM304 459h1v1h-1zM523 459h1v1h-1zM531 459h1v1h-1zM303 460h1v1h-1zM523 460h1v1h-1zM531 460h1v1h-1zM571 460h1v1h-1zM389 461h1v1h-1zM524 461h1v1h-1zM571 461h1v1h-1zM389 462h1v1h-1zM404 462h1v1h-1zM572 462h1v1h-1zM585 462h1v1h-1zM390 463h1v1h-1zM403 463h1v1h-1zM528 463h1v1h-1zM585 463h1v1h-1zM403 464h1v1h-1zM526 464h2v1h-2zM584 464h1v1h-1zM574 466h1v1h-1zM391 467h1v1h-1zM575 467h1v1h-1zM392 468h1v1h-1zM401 468h1v1h-1zM576 468h1v1h-1zM582 468h1v1h-1zM392 469h1v1h-1zM401 469h1v1h-1zM580 469h2v1h-2zM400 470h1v1h-1zM395 472h1v1h-1zM396 473h1v1h-1zM397 474h1v1h-1z" fill="#ff0000"/>
<polyline points="1.5,438.4 5.5,431.6 9.5,417.1 13.5,411.2 17.5,416.3 21.5,434.1 25.5,449.4 29.5,450.3 33.5,454.2 37.5,446.9 41.5,440.1 45.5,427.3 49.5,417.1 53.5,415.7 57.5,417.1 61.5,426.5 65.5,436.7 69.5,436.7 73.5,445.2 77.5,436.7 81.5,423.1 85.5,406.1 89.5,401.0 93.5,400.1 97.5,401.5 101.5,402.7 105.5,403.5 109.5,410.3 113.5,438.4 117.5,452.0 121.5,449.4 125.5,436.7 129.5,440.9 133.5,446.9 137.5,452.0 141.5,442.6 145.5,438.4 149.5,434.1 153.5,424.8 157.5,417.1 161.5,406.1 165.5,408.6 169.5,415.4 173.5,423.9 177.5,424.8 181.5,416.3 185.5,417.1 189.5,429.9 193.5,440.9 197.5,440.1 201.5,429.9 205.5,419.7 209.5,418.0 213.5,409.5 217.5,404.4 221.5,401.8 225.5,407.8 229.5,407.8 233.5,406.1 237.5,406.1 241.5,406.1 245.5,412.0 249.5,412.0 253.5,423.1 257.5,418.0 261.5,422.2 265.5,416.3 269.5,413.7 273.5,406.1 277.5,403.5 281.5,411.2 285.5,434.1 289.5,450.3 293.5,464.7 297.5,458.8 301.5,459.3 305.5,457.1 309.5,448.6 313.5,445.2 317.5,444.7 321.5,450.3 325.5,440.9 329.5,445.7 333.5,445.7 337.5,440.2 341.5,423.1 345.5,417.4 349.5,423.6 353.5,431.6 357.5,446.0 361.5,461.0 365.5,460.5 369.5,449.4 373.5,439.2 377.5,433.3 381.5,444.3 385.5,463.0 389.5,476.6 393.5,474.6 397.5,472.4 401.5,462.2 405.5,443.5 409.5,424.8 413.5,420.9 417.5,445.2 421.5,452.0 425.5,452.0 429.5,444.3 433.5,435.0 437.5,429.0 441.5,411.2 445.5,406.9 449.5,406.6 453.5,406.6 457.5,407.2 461.5,406.9 465.5,420.5 469.5,432.4 473.5,454.5 477.5,454.5 481.5,459.6 485.5,449.4 489.5,446.0 493.5,433.3 497.5,420.5 501.5,412.0 505.5,412.0 509.5,420.5 513.5,439.2 517.5,459.6 521.5,467.8 525.5,465.6 529.5,457.1 533.5,446.0 537.5,438.4 541.5,433.3 545.5,444.0 549.5,444.0 553.5,429.0 557.5,423.9 561.5,442.6 565.5,457.9 569.5,466.4 573.5,471.5 577.5,471.5 581.5,464.7 585.5,456.2 589.5,446.0 593.5,428.2 597.5,425.6 601.5,434.1 605.5,450.3 609.5,450.3 613.5,438.4 617.5,425.3 621.5,425.3 625.5,438.4 629.5,451.5 633.5,451.5 637.5,438.4 641.5,415.4 645.5,405.5" fill="none" stroke="#0000cc" stroke-width="2" stroke-linejoin="round"/>
</g>
<rect x="0" y="0" width="1" height="481" fill="#000"/>
<rect x="658" y="0" width="1" height="481" fill="#000"/>
<rect x="0" y="0" width="659" height="1" fill="#000"/>
<rect x="0" y="306" width="659" height="1" fill="#000"/>
<rect x="0" y="308" width="659" height="1" fill="#000"/>
<rect x="0" y="393" width="659" height="1" fill="#000"/>
<rect x="0" y="395" width="659" height="1" fill="#000"/>
<rect x="0" y="480" width="659" height="1" fill="#000"/>
<rect x="659" y="6" width="2" height="1" fill="#000"/>
<rect x="659" y="39" width="2" height="1" fill="#000"/>
<rect x="659" y="72" width="2" height="1" fill="#000"/>
<rect x="659" y="105" width="2" height="1" fill="#000"/>
<rect x="659" y="138" width="2" height="1" fill="#000"/>
<rect x="659" y="171" width="2" height="1" fill="#000"/>
<rect x="659" y="204" width="2" height="1" fill="#000"/>
<rect x="659" y="237" width="2" height="1" fill="#000"/>
<rect x="659" y="270" width="2" height="1" fill="#000"/>
<rect x="659" y="303" width="2" height="1" fill="#000"/>
<rect x="659" y="310" width="2" height="1" fill="#000"/>
<rect x="659" y="345" width="2" height="1" fill="#000"/>
<rect x="659" y="392" width="2" height="1" fill="#000"/>
<rect x="659" y="397" width="2" height="1" fill="#000"/>
<rect x="659" y="479" width="2" height="1" fill="#000"/>
<rect x="658" y="307" width="1" height="1" fill="#fff"/>
<rect x="658" y="394" width="1" height="1" fill="#fff"/>
<rect x="658" y="413" width="1" height="1" fill="#ff0000"/>
<rect x="658" y="463" width="1" height="1" fill="#ff0000"/>
<rect x="1" y="481" width="1" height="3" fill="#000"/>
<rect x="65" y="481" width="1" height="3" fill="#000"/>
<rect x="129" y="481" width="1" height="3" fill="#000"/>
<rect x="193" y="481" width="1" height="3" fill="#000"/>
<rect x="257" y="481" width="1" height="3" fill="#000"/>
<rect x="321" y="481" width="1" height="3" fill="#000"/>
<rect x="385" y="481" width="1" height="3" fill="#000"/>
<rect x="449" y="481" width="1" height="3" fill="#000"/>
<rect x="513" y="481" width="1" height="3" fill="#000"/>
<rect x="577" y="481" width="1" height="3" fill="#000"/>
<rect x="641" y="481" width="1" height="3" fill="#000"/>
<rect x="660" y="217" width="36" height="11" fill="#000"/>
</g>
<polygon points="4,7 11,7 7.5,11" fill="#000"/>
<polygon points="587,1 596,1 591.5,6.2" fill="#b9b9b9"/>
<polygon points="1,474.5 1,480 6.5,480" fill="#c0c0c0"/>
<text x="663.6" y="10" textLength="28.8" lengthAdjust="spacingAndGlyphs">76.900</text>
<text x="663.6" y="43" textLength="28.8" lengthAdjust="spacingAndGlyphs">74.520</text>
<text x="663.6" y="76" textLength="28.8" lengthAdjust="spacingAndGlyphs">72.070</text>
<text x="663.6" y="109" textLength="28.8" lengthAdjust="spacingAndGlyphs">69.620</text>
<text x="663.6" y="142" textLength="28.8" lengthAdjust="spacingAndGlyphs">67.170</text>
<text x="663.6" y="175" textLength="28.8" lengthAdjust="spacingAndGlyphs">64.720</text>
<text x="663.6" y="208" textLength="28.8" lengthAdjust="spacingAndGlyphs">62.270</text>
<text x="663.6" y="241" textLength="28.8" lengthAdjust="spacingAndGlyphs">59.820</text>
<text x="663.6" y="274" textLength="28.8" lengthAdjust="spacingAndGlyphs">57.370</text>
<text x="663.6" y="307" textLength="28.8" lengthAdjust="spacingAndGlyphs">54.920</text>
<text x="663.6" y="226" style="fill:#fff;stroke:#fff;stroke-width:0.3px" textLength="28.8" lengthAdjust="spacingAndGlyphs">60.940</text>
<text x="661.7" y="319" textLength="28.4" lengthAdjust="spacingAndGlyphs">4.2472</text>
<text x="661.7" y="349" textLength="17.8" lengthAdjust="spacingAndGlyphs">0.00</text>
<text x="661.9" y="390" textLength="31.2" lengthAdjust="spacingAndGlyphs">-5.7446</text>
<text x="661.7" y="406" textLength="15.6" lengthAdjust="spacingAndGlyphs">100</text>
<text x="660.8" y="417" textLength="10.2" lengthAdjust="spacingAndGlyphs">80</text>
<text x="660.8" y="467" textLength="10.2" lengthAdjust="spacingAndGlyphs">20</text>
<text x="662.1" y="477" textLength="5.2" lengthAdjust="spacingAndGlyphs">0</text>
<text x="0.6" y="493" textLength="49.4" lengthAdjust="spacingAndGlyphs">16 Jan 2019</text>
<text x="63.8" y="493" textLength="46.9" lengthAdjust="spacingAndGlyphs">7 Feb 2019</text>
<text x="128.5" y="493" textLength="46.4" lengthAdjust="spacingAndGlyphs">1 Mar 2019</text>
<text x="192.6" y="493" textLength="51.5" lengthAdjust="spacingAndGlyphs">25 Mar 2019</text>
<text x="256.9" y="493" textLength="50.5" lengthAdjust="spacingAndGlyphs">16 Apr 2019</text>
<text x="320.6" y="493" textLength="48.8" lengthAdjust="spacingAndGlyphs">9 May 2019</text>
<text x="384.7" y="493" textLength="54.0" lengthAdjust="spacingAndGlyphs">31 May 2019</text>
<text x="448.9" y="493" textLength="48.9" lengthAdjust="spacingAndGlyphs">24 Jun 2019</text>
<text x="513.1" y="493" textLength="45.9" lengthAdjust="spacingAndGlyphs">16 Jul 2019</text>
<text x="577.3" y="493" textLength="46.9" lengthAdjust="spacingAndGlyphs">7 Aug 2019</text>
<text x="641.0" y="493" textLength="52.4" lengthAdjust="spacingAndGlyphs">29 Aug 2019</text>
</svg></body></html>
